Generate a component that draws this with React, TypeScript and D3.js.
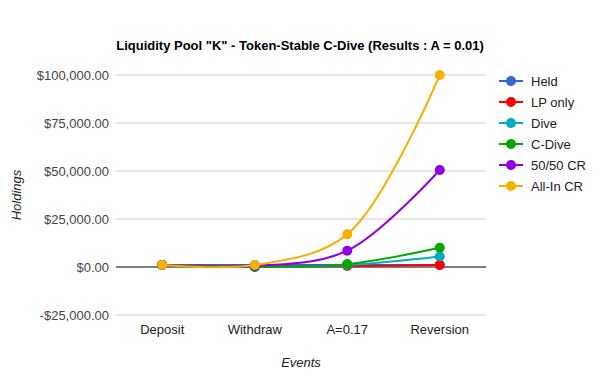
import React from "react";
import * as d3 from "d3";

const categories = ["Deposit", "Withdraw", "A=0.17", "Reversion"];
const seriesNames = ["Held", "LP only", "Dive", "C-Dive", "50/50 CR", "All-In CR"];
const held = [1000, 1000, 1000, 1000];
const lpOnly = [1000, 300, 500, 1000];
const dive = [1000, 0, 1000, 5500];
const cDive = [1000, 0, 1500, 10000];
const fiftyCR = [1000, 500, 8500, 50500];
const allInCR = [1000, 1000, 17000, 100000];
const yTicks = [-25000, 0, 25000, 50000, 75000, 100000];
const colors = ["#3366cc", "#ff0000", "#00acc1", "#00a800", "#8f00e6", "#f6b100"];

const W = 600, H = 390;
const left = 116, right = 486, top = 75, bottom = 315;

export default function App() {
  const data = [held, lpOnly, dive, cDive, fiftyCR, allInCR];
  const x = d3.scaleBand().domain(categories).range([left, right]);
  const y = d3.scaleLinear().domain([-25000, 100000]).range([bottom, top]);
  const cx = (c: string) => (x(c) as number) + x.bandwidth() / 2;
  const line = d3
    .line<number>()
    .x((_, i) => cx(categories[i]))
    .y((d) => y(d))
    .curve(d3.curveCatmullRom.alpha(0.5));
  const fmt = (v: number) => (v < 0 ? "-$" : "$") + d3.format(",.2f")(Math.abs(v));
  const font = "Arial, 'Liberation Sans', sans-serif";
  return (
    <svg width={W} height={H} style={{ position: "absolute", left: 0, top: 0 }} fontFamily={font}>
      <rect width={W} height={H} fill="#fff" />
      <text x={300} y={50} textAnchor="middle" fontSize={13} fontWeight="bold" fill="#000">
        Liquidity Pool "K" - Token-Stable C-Dive (Results : A = 0.01)
      </text>
      {yTicks.map((t) => (
        <g key={t}>
          <line x1={left} x2={right} y1={y(t)} y2={y(t)} stroke={t === 0 ? "#000" : "#cccccc"} strokeWidth={1} />
          <text x={109} y={y(t) + 4.5} textAnchor="end" fontSize={13} fill="#444">
            {fmt(t)}
          </text>
        </g>
      ))}
      {categories.map((c) => (
        <text key={c} x={cx(c)} y={334} textAnchor="middle" fontSize={13} fill="#222">
          {c}
        </text>
      ))}
      <text x={301} y={367} textAnchor="middle" fontSize={13} fontStyle="italic" fill="#222">
        Events
      </text>
      <text transform={`translate(21,195) rotate(-90)`} textAnchor="middle" fontSize={13} fontStyle="italic" fill="#222">
        Holdings
      </text>
      {data.map((s, k) => (
        <g key={seriesNames[k]}>
          <path d={line(s) || ""} fill="none" stroke={colors[k]} strokeWidth={2} />
          {s.map((v, i) => (
            <circle key={i} cx={cx(categories[i])} cy={y(v)} r={5} fill={colors[k]} />
          ))}
        </g>
      ))}
      {seriesNames.map((n, k) => {
        const ly = 81 + k * 21;
        return (
          <g key={n}>
            <line x1={499} x2={523} y1={ly} y2={ly} stroke={colors[k]} strokeWidth={2} />
            <circle cx={511} cy={ly} r={5} fill={colors[k]} />
            <text x={531} y={ly + 4.5} fontSize={13} fill="#222">
              {n}
            </text>
          </g>
        );
      })}
    </svg>
  );
}
